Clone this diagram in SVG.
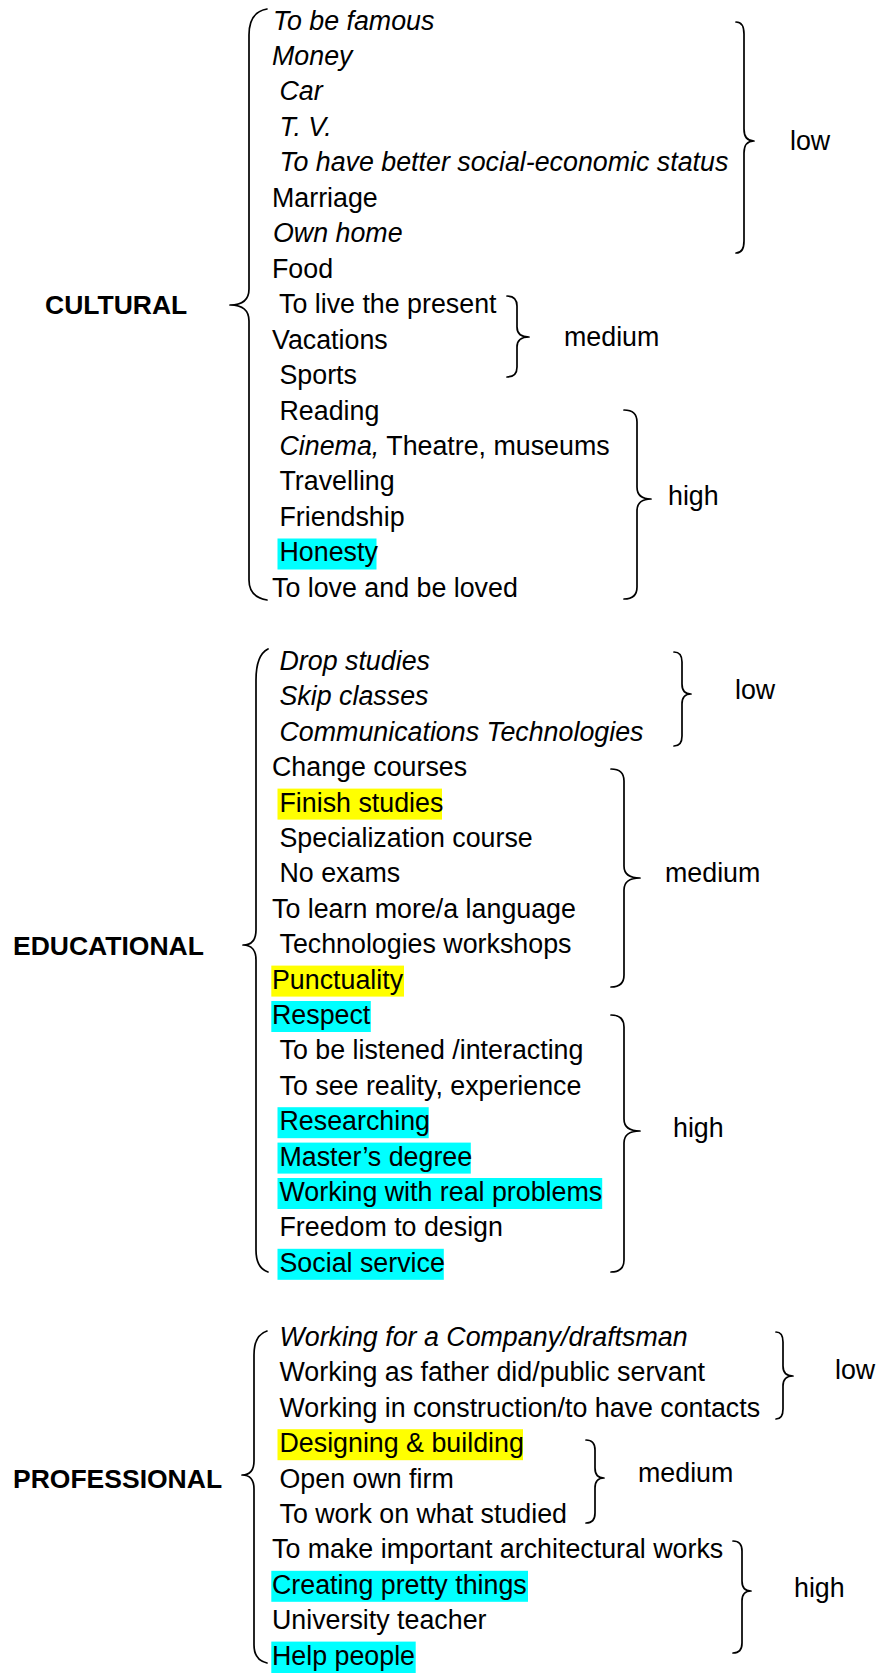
<svg xmlns="http://www.w3.org/2000/svg" width="879" height="1673" viewBox="0 0 879 1673">
  <style>
    text { font-family: "Liberation Sans", Arial, sans-serif; font-size: 26.8px; fill: #000; }
    .it { font-style: italic; }
    .head { font-weight: bold; font-size: 26.5px; }
    .brace { fill: none; stroke: #000; stroke-width: 1.7; stroke-linecap: round; stroke-linejoin: round; }
    .hl-c { fill: #00FFFF; }
    .hl-y { fill: #FFFF00; }
  </style>
  <rect width="879" height="1673" fill="#fff"/>

  <!-- braces grouping the items -->
  <g id="connectors">
    <!-- left braces -->
    <path class="brace" d="M267 9 Q249 12 249 35 L249 289 Q249 305 230 305 Q249 305 249 321 L249 580 Q249 597 267 600"/>
    <path class="brace" d="M268 649 Q256 655 256 680 L256 930 Q256 945 243 945 Q256 945 256 960 L256 1250 Q256 1268 268 1272"/>
    <path class="brace" d="M267 1331 Q254 1335 254 1355 L254 1461 Q254 1475 242 1475 Q254 1475 254 1489 L254 1645 Q254 1660 267 1663"/>
    <!-- right braces -->
    <path class="brace" d="M736 22 Q744 22 744 34 L744 129 Q744 141 754 141 Q744 141 744 153 L744 241 Q744 253 736 253"/>
    <path class="brace" d="M507 296 Q517 296 517 306 L517 327 Q517 337 529 337 Q517 337 517 347 L517 367 Q517 377 507 377"/>
    <path class="brace" d="M624 410 Q637 410 637 422 L637 487 Q637 499 651 499 Q637 499 637 511 L637 587 Q637 599 624 599"/>
    <path class="brace" d="M674 652 Q682 652 682 662 L682 684 Q682 694 691 694 Q682 694 682 704 L682 736 Q682 746 674 746"/>
    <path class="brace" d="M611 769 Q624 769 624 781 L624 866 Q624 878 640 878 Q624 878 624 890 L624 975 Q624 987 611 987"/>
    <path class="brace" d="M611 1015 Q624 1015 624 1027 L624 1119 Q624 1131 640 1131 Q624 1131 624 1143 L624 1260 Q624 1272 611 1272"/>
    <path class="brace" d="M776 1332 Q783 1332 783 1342 L783 1366 Q783 1376 793 1376 Q783 1376 783 1386 L783 1409 Q783 1419 776 1419"/>
    <path class="brace" d="M586 1440 Q595 1440 595 1450 L595 1468 Q595 1478 604 1478 Q595 1478 595 1488 L595 1513 Q595 1523 586 1523"/>
    <path class="brace" d="M733 1541 Q742 1541 742 1551 L742 1581 Q742 1591 751 1591 Q742 1591 742 1601 L742 1643 Q742 1653 733 1653"/>
  </g>

  <!-- CULTURAL -->
  <g id="cultural">
    <text class="head" x="45" y="314">CULTURAL</text>
    <rect class="hl-c" x="277.5" y="538.5" width="99" height="31"/>
    <text class="it" x="273" y="29.5">To be famous</text>
    <text class="it" x="272" y="65">Money</text>
    <text class="it" x="279.5" y="100.4">Car</text>
    <text class="it" x="279.5" y="135.9">T. V.</text>
    <text class="it" x="279.5" y="171.3">To have better social-economic status</text>
    <text x="272" y="206.8">Marriage</text>
    <text class="it" x="273" y="242.2">Own home</text>
    <text x="272" y="277.7">Food</text>
    <text x="279" y="313.1">To live the present</text>
    <text x="272" y="348.6">Vacations</text>
    <text x="279.5" y="384">Sports</text>
    <text x="279.5" y="419.5">Reading</text>
    <text x="279.5" y="454.9"><tspan class="it">Cinema,</tspan> Theatre, museums</text>
    <text x="279.5" y="490.4">Travelling</text>
    <text x="279.5" y="525.8">Friendship</text>
    <text x="279.5" y="561.3">Honesty</text>
    <text x="272" y="596.7">To love and be loved</text>
  </g>
  <g id="cultural-low"><text x="790" y="150">low</text></g>
  <g id="cultural-medium"><text x="564" y="346">medium</text></g>
  <g id="cultural-high"><text x="668" y="505">high</text></g>

  <!-- EDUCATIONAL -->
  <g id="educational">
    <text class="head" x="13" y="954.5">EDUCATIONAL</text>
    <rect class="hl-y" x="277.5" y="788.6" width="164.5" height="31"/>
    <rect class="hl-y" x="271.3" y="965.6" width="132.7" height="31"/>
    <rect class="hl-c" x="271.3" y="1001" width="99.5" height="31"/>
    <rect class="hl-c" x="277.5" y="1107.2" width="151.2" height="31"/>
    <rect class="hl-c" x="277.5" y="1142.6" width="193.3" height="31"/>
    <rect class="hl-c" x="277.5" y="1178" width="324.7" height="31"/>
    <rect class="hl-c" x="277.5" y="1248.8" width="166.3" height="31"/>
    <text class="it" x="279.5" y="670">Drop studies</text>
    <text class="it" x="279.5" y="705.4">Skip classes</text>
    <text class="it" x="279.5" y="740.8">Communications Technologies</text>
    <text x="272" y="776.2">Change courses</text>
    <text x="279.5" y="811.6">Finish studies</text>
    <text x="279.5" y="847">Specialization course</text>
    <text x="279.5" y="882.4">No exams</text>
    <text x="272" y="917.8">To learn more/a language</text>
    <text x="279.5" y="953.2">Technologies workshops</text>
    <text x="272" y="988.6">Punctuality</text>
    <text x="272" y="1024">Respect</text>
    <text x="279.5" y="1059.4">To be listened /interacting</text>
    <text x="279.5" y="1094.8">To see reality, experience</text>
    <text x="279.5" y="1130.2">Researching</text>
    <text x="279.5" y="1165.6">Master’s degree</text>
    <text x="279.5" y="1201">Working with real problems</text>
    <text x="279.5" y="1236.4">Freedom to design</text>
    <text x="279.5" y="1271.8">Social service</text>
  </g>
  <g id="educational-low"><text x="735" y="699">low</text></g>
  <g id="educational-medium"><text x="665" y="882">medium</text></g>
  <g id="educational-high"><text x="673" y="1137">high</text></g>

  <!-- PROFESSIONAL -->
  <g id="professional">
    <text class="head" x="13" y="1488">PROFESSIONAL</text>
    <rect class="hl-y" x="277.5" y="1429.2" width="245.5" height="31"/>
    <rect class="hl-c" x="271.3" y="1570.8" width="256.7" height="31"/>
    <rect class="hl-c" x="271.3" y="1641.6" width="144.4" height="31.4"/>
    <text class="it" x="279.5" y="1346">Working for a Company/draftsman</text>
    <text x="279.5" y="1381.4">Working as father did/public servant</text>
    <text x="279.5" y="1416.8">Working in construction/to have contacts</text>
    <text x="279.5" y="1452.2">Designing &amp; building</text>
    <text x="279.5" y="1487.6">Open own firm</text>
    <text x="279.5" y="1523">To work on what studied</text>
    <text x="272" y="1558.4">To make important architectural works</text>
    <text x="272" y="1593.8">Creating pretty things</text>
    <text x="272" y="1629.2">University teacher</text>
    <text x="272" y="1664.6">Help people</text>
  </g>
  <g id="professional-low"><text x="835" y="1379">low</text></g>
  <g id="professional-medium"><text x="638" y="1482">medium</text></g>
  <g id="professional-high"><text x="794" y="1597">high</text></g>
</svg>
